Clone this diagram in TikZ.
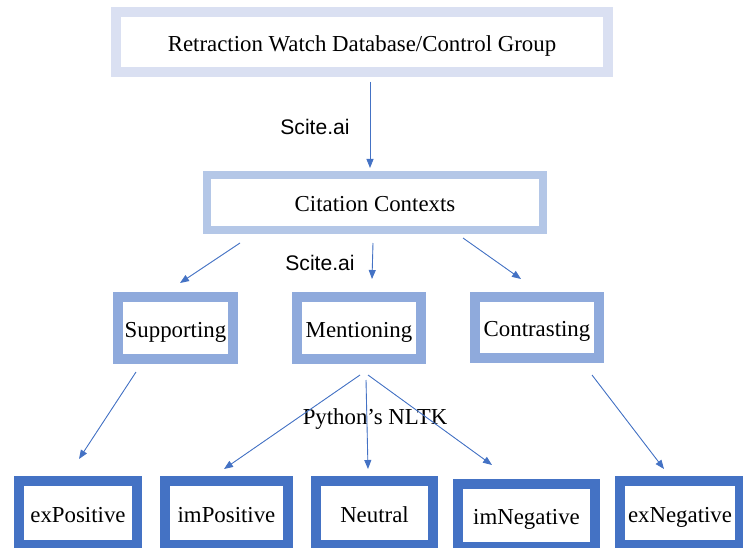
\documentclass[tikz,border=0pt]{standalone}
\usepackage{fontspec}
\setmainfont{Liberation Serif}
\newfontfamily\labelfont{Liberation Sans}
\usetikzlibrary{arrows.meta,calc}
\definecolor{topblue}{HTML}{DAE0F2}
\definecolor{citeblue}{HTML}{B4C7E7}
\definecolor{midblue}{HTML}{8FAADC}
\definecolor{lowblue}{HTML}{4472C4}

\begin{document}
\begin{tikzpicture}[
  x=0.2mm, y=-0.2mm,
  >={Triangle[length=1.8mm,width=1.4mm]},
  font=\fontsize{13}{15}\selectfont,
  box/.style={draw, fill=white, inner sep=0pt, align=center, text height=13.7pt, text depth=3pt},
  topbox/.style={box, draw=topblue, line width=2mm, minimum width=98.4mm, minimum height=12mm},
  citebox/.style={box, draw=citeblue, line width=1.6mm, minimum width=67.2mm, minimum height=11mm},
  midbox/.style={box, draw=midblue, line width=2mm, minimum height=12.4mm},
  lowbox/.style={box, draw=lowblue, line width=2mm, minimum height=12.8mm},
  arr/.style={->, draw=lowblue, fill=lowblue, line width=0.5pt},
  lbl/.style={font=\labelfont\fontsize{12}{14}\selectfont}
]
\useasboundingbox (0,0) rectangle (743,548);

% top
\node[topbox] (rw) at (362,42) {Retraction Watch Database/Control Group};
\node[citebox] (cite) at (375,202.5) {Citation Contexts};

% middle row
\node[midbox, minimum width=23mm] (sup) at (175.5,328) {Supporting};
\node[midbox, minimum width=24.8mm] (men) at (359,328) {Mentioning};
\node[midbox, minimum width=24.8mm, minimum height=12.2mm] (con) at (537,327.5) {Contrasting};

% bottom row
\node[lowbox, minimum width=23.6mm] (expos) at (78,513) {exPositive};
\node[lowbox, minimum width=24.6mm] (impos) at (226.5,513) {imPositive};
\node[lowbox, minimum width=23.4mm] (neu) at (374.5,513) {Neutral};
\node[lowbox, minimum width=27.4mm, minimum height=12.6mm] (imneg) at (526.5,515.5) {imNegative};
\node[lowbox, minimum width=24mm] (exneg) at (680,513) {exNegative};

% labels
\node[lbl] (sc1) at (315,127) {Scite.ai};
\node[lbl] (sc2) at (320,263) {Scite.ai};
\node (nltk) at (375,419) {Python's NLTK};

% arrows
\draw[arr] ($(rw.south)+(8,5)$) -- ($(cite.north)+(-5,-3)$);
\draw[arr] ($(cite.south)+(-135,9)$) -- ($(sup.north)+(4.5,-9)$);
\draw[arr] ($(cite.south)+(-2,9)$) -- ($(men.north)+(13,-13)$);
\draw[arr] ($(cite.south)+(88,4)$) -- ($(con.north)+(-16,-13)$);
\draw[arr] ($(sup.south)+(-39.5,8)$) -- ($(expos.north)+(1,-17)$);
\draw[arr] ($(men.south)+(1,11)$) -- ($(impos.north)+(-2.5,-7)$);
\draw[arr] ($(men.south)+(7,16)$) -- ($(neu.north)+(-6.5,-7)$);
\draw[arr] ($(men.south)+(9,11)$) -- ($(imneg.north)+(-34.5,-14)$);
\draw[arr] ($(con.south)+(55,12)$) -- ($(exneg.north)+(-16,-7)$);

\end{tikzpicture}
\end{document}
